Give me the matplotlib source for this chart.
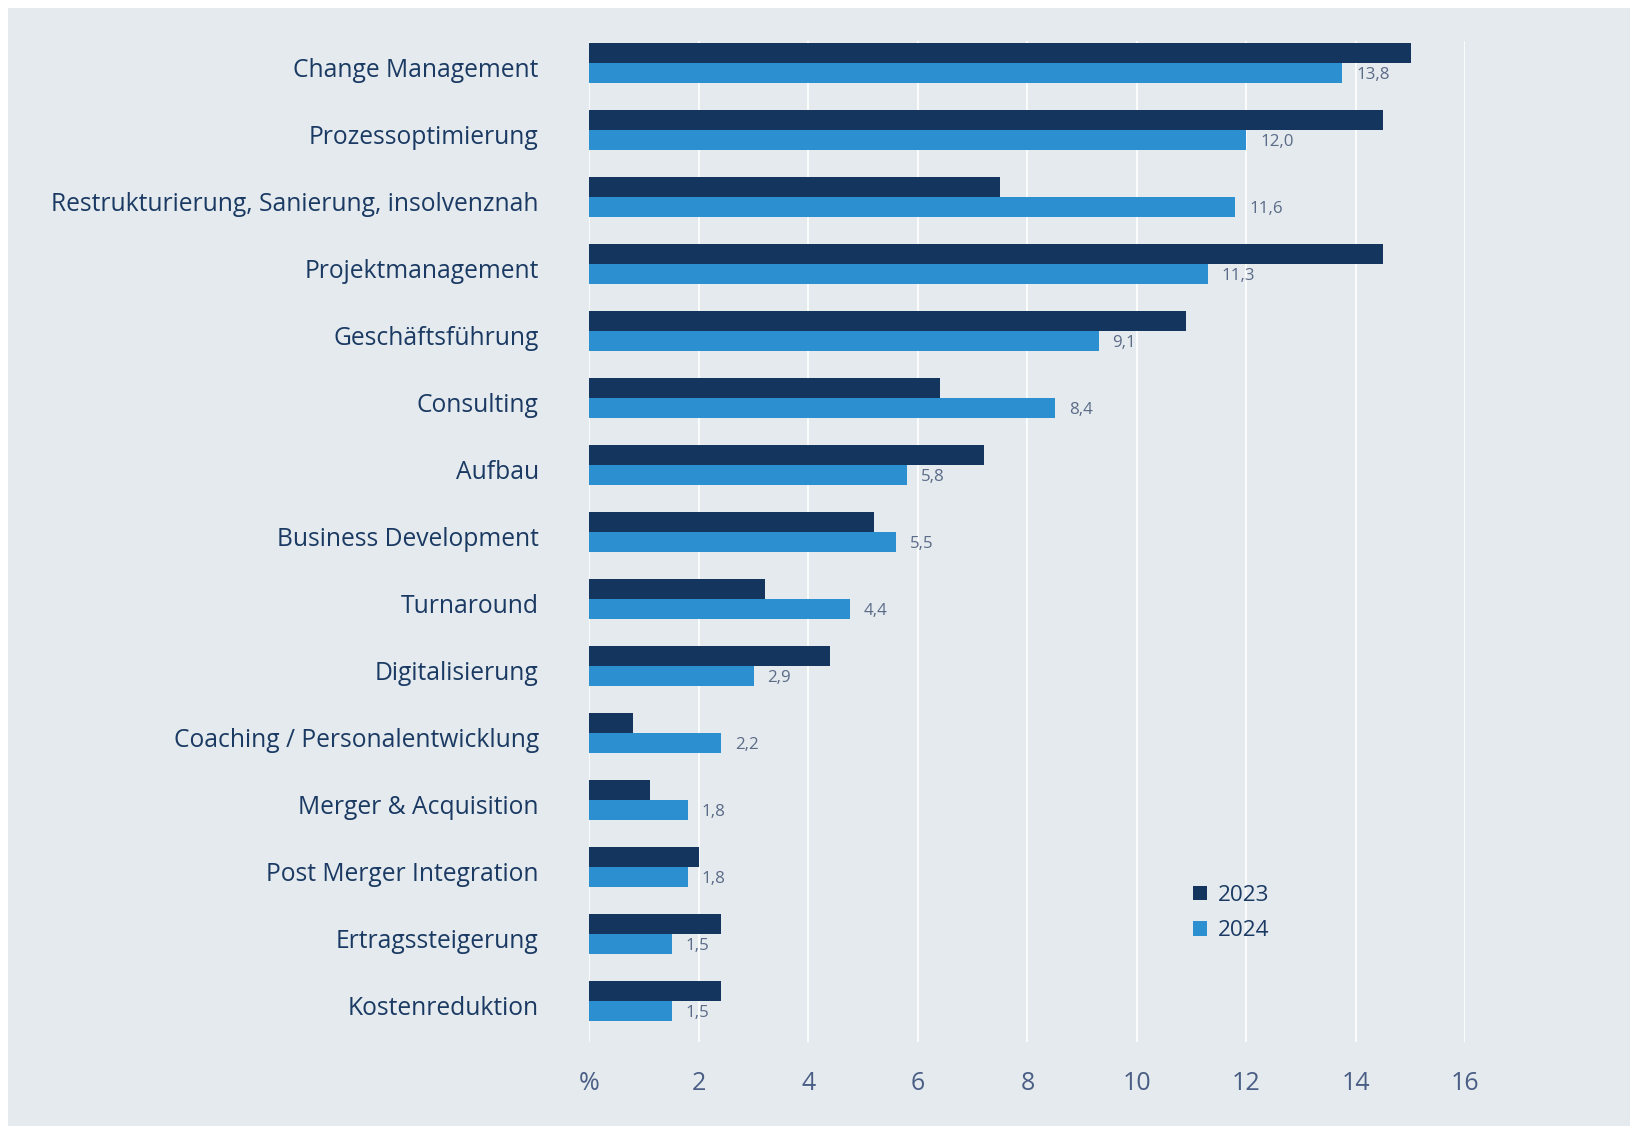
import matplotlib
matplotlib.use('Agg')
import matplotlib.pyplot as plt
from matplotlib.patches import Patch, Rectangle
import matplotlib.transforms as mtransforms
import numpy as np

categories = [
    "Change Management", "Prozessoptimierung",
    "Restrukturierung, Sanierung, insolvenznah", "Projektmanagement",
    "Geschäftsführung", "Consulting", "Aufbau", "Business Development",
    "Turnaround", "Digitalisierung", "Coaching / Personalentwicklung",
    "Merger & Acquisition", "Post Merger Integration", "Ertragssteigerung",
    "Kostenreduktion",
]
values_2023 = [15.0, 14.5, 7.5, 14.5, 10.9, 6.4, 7.2, 5.2, 3.2, 4.4, 0.8, 1.1, 2.0, 2.4, 2.4]
values_2024 = [13.75, 12.0, 11.8, 11.3, 9.3, 8.5, 5.8, 5.6, 4.75, 3.0, 2.4, 1.8, 1.8, 1.5, 1.5]
labels_2024 = ["13,8", "12,0", "11,6", "11,3", "9,1", "8,4", "5,8", "5,5", "4,4",
               "2,9", "2,2", "1,8", "1,8", "1,5", "1,5"]
series_names = ["2023", "2024"]
xticks = [0, 2, 4, 6, 8, 10, 12, 14, 16]
xtick_labels = ["%", "2", "4", "6", "8", "10", "12", "14", "16"]

BG = "#e4eaed"
DARK = "#13355e"
LIGHT = "#2c8fcf"
NAVY_TXT = "#1b3a63"
TICK_TXT = "#4a5e85"
VAL_TXT = "#5b6b88"

plt.rcParams['font.family'] = ['Open Sans', 'DejaVu Sans']

W, H = 1631, 1126
fig = plt.figure(figsize=(W / 100, H / 100), dpi=100)
fig.patch.set_facecolor('white')
fig.add_artist(Rectangle((8 / W, 0), 1 - 8 / W, 1 - 8 / H, transform=fig.transFigure,
                         facecolor=BG, edgecolor='none', zorder=-10))

ax_left, ax_right, ax_top, ax_bot = 589.5, 1465.3, 41, 1042
ax = fig.add_axes([ax_left / W, 1 - ax_bot / H, (ax_right - ax_left) / W, (ax_bot - ax_top) / H])
ax.patch.set_alpha(0)

y = np.arange(len(categories))
h = 0.3
ax.barh(y - h / 2, values_2023, height=h, color=DARK, zorder=3)
ax.barh(y + h / 2, values_2024, height=h, color=LIGHT, zorder=3)

for i, (v, lab) in enumerate(zip(values_2024, labels_2024)):
    ax.annotate(lab, (v, i + h / 2), xytext=(10, -1), textcoords='offset points',
                va='center', ha='left', fontsize=12.2, color=VAL_TXT)

ax.set_xlim(0, 16)
ax.set_ylim(14.61, -0.33)
ax.set_xticks(xticks, xtick_labels)
ax.set_yticks(y, categories)
ax.grid(axis='x', color='white', lw=1.2, zorder=0)
ax.set_axisbelow(True)
for s in ax.spines.values():
    s.set_visible(False)
ax.tick_params(axis='x', length=0, pad=21, labelsize=18, labelcolor=TICK_TXT)
ax.tick_params(axis='y', length=0, pad=36.5, labelsize=17.7, labelcolor=NAVY_TXT)
shift = mtransforms.ScaledTranslation(0, -4.8 / 100, fig.dpi_scale_trans)
for lbl in ax.get_yticklabels():
    lbl.set_transform(lbl.get_transform() + shift)

handles = [Patch(facecolor=DARK), Patch(facecolor=LIGHT)]
fig.legend(handles, series_names, loc='upper left',
           bbox_to_anchor=(1192.7 / W, 1 - 885 / H), frameon=False,
           borderpad=0, borderaxespad=0, fontsize=16.2, labelcolor=NAVY_TXT,
           handlelength=0.62, handleheight=0.62, handletextpad=0.5, labelspacing=0.64)

fig.savefig('out.png', dpi=100, facecolor=fig.get_facecolor())
